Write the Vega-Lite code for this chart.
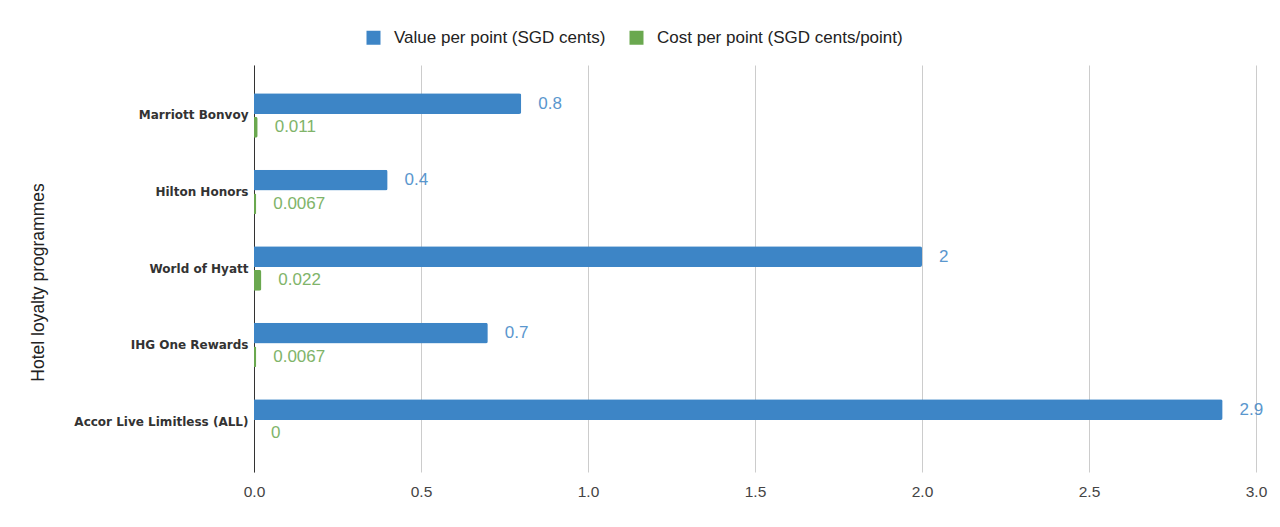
{
  "$schema": "https://vega.github.io/schema/vega-lite/v6.json",
  "width": 1002,
  "height": 407,
  "autosize": {"type": "none"},
  "padding": {"left": 254, "top": 65, "right": 24, "bottom": 55},
  "background": "white",
  "config": {
    "view": {"stroke": null},
    "font": "Liberation Sans",
    "axis": {"labelFont": "Liberation Sans", "titleFont": "Liberation Sans"},
    "legend": {"labelFont": "Liberation Sans"}
  },
  "data": {
    "values": [
      {"program": "Marriott Bonvoy", "series": "Value per point (SGD cents)", "value": 0.8},
      {"program": "Marriott Bonvoy", "series": "Cost per point (SGD cents/point)", "value": 0.011},
      {"program": "Hilton Honors", "series": "Value per point (SGD cents)", "value": 0.4},
      {"program": "Hilton Honors", "series": "Cost per point (SGD cents/point)", "value": 0.0067},
      {"program": "World of Hyatt", "series": "Value per point (SGD cents)", "value": 2},
      {"program": "World of Hyatt", "series": "Cost per point (SGD cents/point)", "value": 0.022},
      {"program": "IHG One Rewards", "series": "Value per point (SGD cents)", "value": 0.7},
      {"program": "IHG One Rewards", "series": "Cost per point (SGD cents/point)", "value": 0.0067},
      {"program": "Accor Live Limitless (ALL)", "series": "Value per point (SGD cents)", "value": 2.9},
      {"program": "Accor Live Limitless (ALL)", "series": "Cost per point (SGD cents/point)", "value": 0}
    ]
  },
  "encoding": {
    "y": {
      "field": "program",
      "type": "nominal",
      "sort": null,
      "scale": {"paddingInner": 0.42, "paddingOuter": 0.37},
      "axis": {
        "title": "Hotel loyalty programmes",
        "titleFontSize": 17.5,
        "titleFontWeight": "normal",
        "titleColor": "#222222",
        "titlePadding": 26,
        "titleY": 217,
        "labelFontSize": 12,
        "labelFontWeight": "bold",
        "labelColor": "#333333",
        "labelFont": "DejaVu Sans",
        "labelLimit": 0,
        "ticks": false,
        "labelPadding": 6,
        "domainColor": "#333333",
        "domainWidth": 1
      }
    },
    "yOffset": {
      "field": "series",
      "type": "nominal",
      "sort": ["Value per point (SGD cents)", "Cost per point (SGD cents/point)"],
      "scale": {"paddingInner": 0.12}
    },
    "x": {
      "field": "value",
      "type": "quantitative",
      "scale": {"domain": [0, 3]},
      "axis": {
        "title": null,
        "values": [0, 0.5, 1, 1.5, 2, 2.5, 3],
        "format": ".1f",
        "labelFontSize": 15.5,
        "labelColor": "#444444",
        "labelPadding": 12,
        "labelFlush": false,
        "domain": false,
        "ticks": false,
        "gridColor": "#cccccc"
      }
    },
    "color": {
      "field": "series",
      "type": "nominal",
      "sort": ["Value per point (SGD cents)", "Cost per point (SGD cents/point)"],
      "scale": {"range": ["#3d85c6", "#6aa84f"]},
      "legend": {
        "title": null,
        "orient": "none",
        "direction": "horizontal",
        "legendX": 111,
        "legendY": -36,
        "symbolType": "square",
        "symbolSize": 196,
        "symbolStrokeWidth": 0,
        "symbolOpacity": 1,
        "labelFontSize": 17,
        "labelColor": "#222222",
        "labelLimit": 0,
        "columnPadding": 22,
        "labelOffset": 12
      }
    }
  },
  "layer": [
    {
      "mark": {"type": "bar", "cornerRadiusEnd": 2}
    },
    {
      "mark": {"type": "text", "align": "left", "baseline": "middle", "dx": 17, "fontSize": 17, "opacity": 0.85},
      "encoding": {
        "text": {"field": "value", "type": "quantitative", "format": "~g"}
      }
    }
  ]
}
